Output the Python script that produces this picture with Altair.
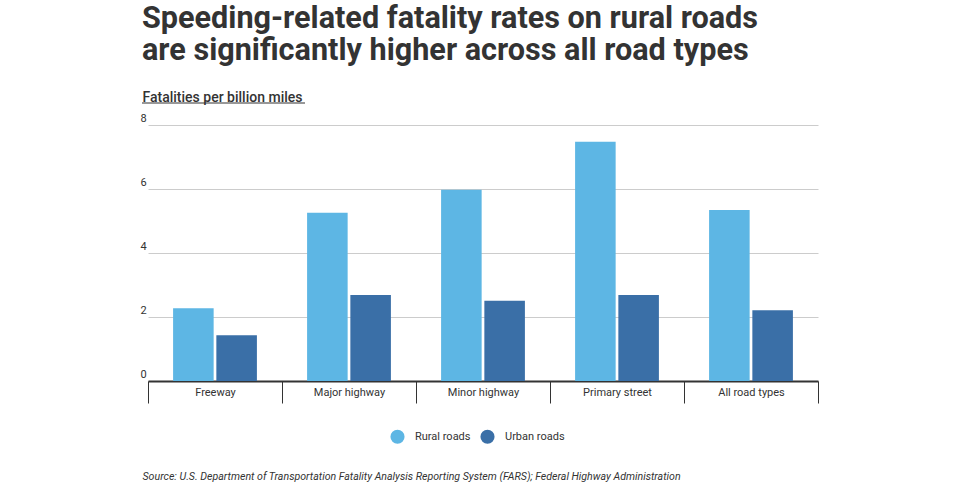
import altair as alt
import pandas as pd

categories = ["Freeway", "Major highway", "Minor highway", "Primary street", "All road types"]
rural = [2.27, 5.26, 5.98, 7.48, 5.34]
urban = [1.43, 2.69, 2.51, 2.69, 2.21]
series = ["Rural roads", "Urban roads"]
colors = ["#5db6e4", "#3a6fa7"]
y_ticks = [0, 2, 4, 6, 8]

rows = []
for c, r, u in zip(categories, rural, urban):
    rows.append({"road": c, "area": series[0], "rate": r})
    rows.append({"road": c, "area": series[1], "rate": u})
df = pd.DataFrame(rows)

TXT = "#333333"

bars = alt.Chart(df).mark_bar().encode(
    x=alt.X("road:N", sort=categories,
            scale=alt.Scale(paddingInner=0, paddingOuter=0, range=[8, 678]),
            axis=alt.Axis(title="Source: U.S. Department of Transportation Fatality Analysis Reporting System (FARS); Federal Highway Administration",
                          titleFont="Roboto", titleFontSize=10.6, titleFontStyle="italic",
                          titleFontWeight="normal", titleColor=TXT,
                          titleAnchor="start", titleAlign="left", titleBaseline="alphabetic",
                          titleX=2, titleY=98,
                          labelAngle=0, labelFont="Roboto", labelFontSize=11, labelColor=TXT,
                          labelPadding=-17, tickBand="extent", tickSize=22, tickColor=TXT,
                          tickWidth=1, domainColor=TXT, domainWidth=2, grid=False)),
    xOffset=alt.XOffset("area:N", sort=series,
                        scale=alt.Scale(paddingInner=0.0625, paddingOuter=0.58)),
    y=alt.Y("rate:Q", scale=alt.Scale(domain=[0, 8], nice=False),
            axis=alt.Axis(values=y_ticks, title="Fatalities per billion miles",
                          titleFont="Roboto", titleFontSize=14, titleFontWeight=500,
                          titleColor=TXT, titleAngle=0, titleAlign="left",
                          titleBaseline="alphabetic", titleX=2, titleY=-24,
                          labelFont="Roboto", labelFontSize=11, labelColor=TXT,
                          labelAlign="left", labelBaseline="bottom", labelPadding=0,
                          labelOffset=-2, ticks=False, tickSize=0, domain=False,
                          grid=True, gridColor="#cccccc", gridWidth=1)),
    color=alt.Color("area:N", sort=series,
                    scale=alt.Scale(domain=series, range=colors),
                    legend=alt.Legend(title=None, orient="none", direction="horizontal",
                                      legendX=250, legendY=304, padding=0,
                                      symbolType="circle", symbolSize=200,
                                      symbolStrokeWidth=0, labelFont="Roboto",
                                      labelFontSize=11, labelColor=TXT,
                                      labelOffset=10, columnPadding=9)),
)

underline = alt.Chart(alt.Data(values=[{"u": 1}])).mark_rule(
    color=TXT, strokeWidth=1.2
).encode(x=alt.value(2), x2=alt.value(165), y=alt.value(-22))

chart = alt.layer(bars, underline).properties(
    width=681, height=256,
    title=alt.TitleParams(
        text=["Speeding-related fatality rates on rural roads",
              "are significantly higher across all road types"],
        font="Roboto", fontSize=30.6, fontWeight="bold", color=TXT,
        anchor="start", frame="group", lineHeight=32, dx=2, dy=-23, offset=0),
    autosize=alt.AutoSizeParams(type="none"),
    padding={"left": 140, "top": 125, "right": 139, "bottom": 101},
    background="white",
).configure_view(stroke=None)

chart.save("out.html", embed_options={"renderer": "svg", "actions": False})
